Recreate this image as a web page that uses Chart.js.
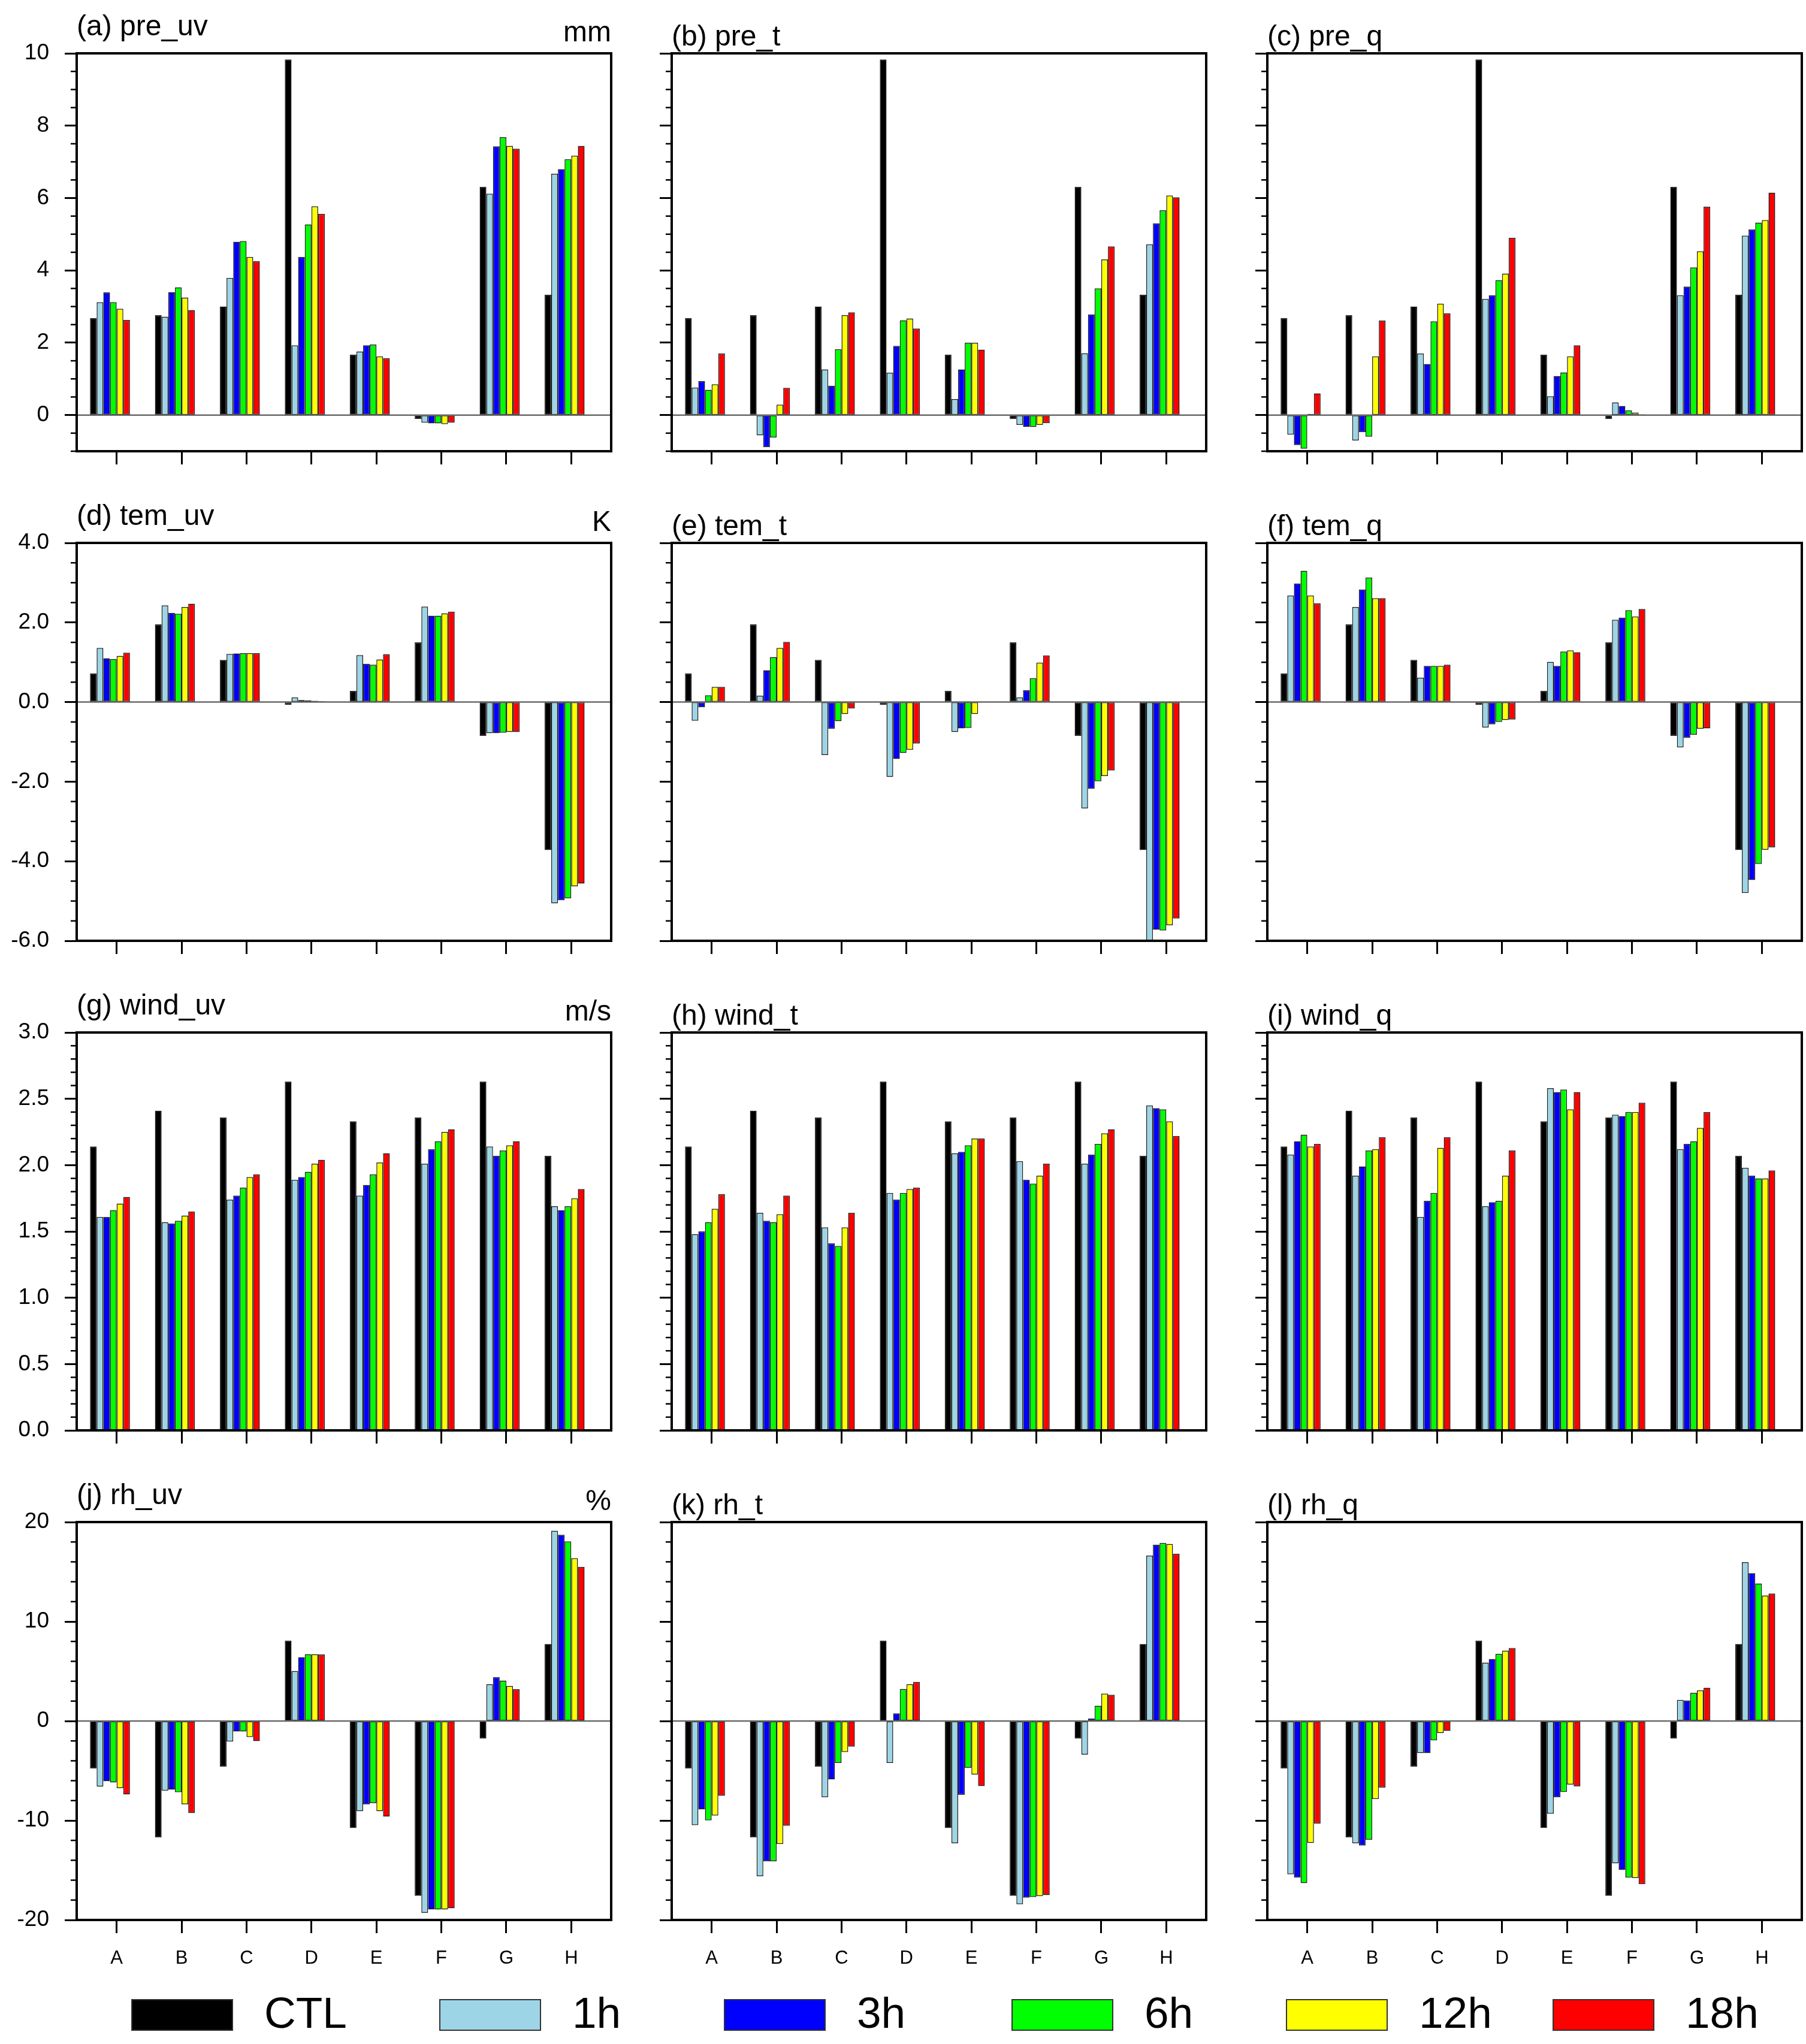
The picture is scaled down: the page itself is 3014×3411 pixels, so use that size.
<!DOCTYPE html>
<html>
<head>
<meta charset="utf-8">
<title>pre / tem / wind / rh</title>
<script src="https://cdn.jsdelivr.net/npm/chart.js@4.4.1/dist/chart.umd.min.js"></script>
<style>
  html, body { margin: 0; padding: 0; background: #fff; }
  body { width: 3014px; height: 3411px; position: relative; overflow: hidden;
         font-family: "Liberation Sans", Arial, sans-serif; color: #000; }
  .panel { position: absolute; }
  .panel canvas { display: block; }
  .title, .unit { position: absolute; font-size: 48px; line-height: 48px; white-space: nowrap; }
  .legend-box { position: absolute; width: 170px; height: 53px; border: 2px solid #333; box-sizing: border-box; }
  .legend-text { position: absolute; font-size: 73px; line-height: 73px; white-space: nowrap; }
</style>
</head>
<body>
<script>
var categories = ['A', 'B', 'C', 'D', 'E', 'F', 'G', 'H'];
var runs = ['CTL', '1h', '3h', '6h', '12h', '18h'];
var runColors = ['#000000', '#9dd5e6', '#0000ff', '#00ff00', '#ffff00', '#ff0000'];

// CTL is the same in every panel of a row
var preCTL  = [2.68, 2.76, 3.00, 9.83, 1.67, -0.11, 6.31, 3.33];
var temCTL  = [0.72, 1.95, 1.06, -0.07, 0.28, 1.50, -0.85, -3.72];
var windCTL = [2.14, 2.41, 2.36, 2.63, 2.33, 2.36, 2.63, 2.07];
var rhCTL   = [-4.77, -11.70, -4.59, 8.07, -10.75, -17.58, -1.76, 7.74];

// rows: 1h, 3h, 6h, 12h, 18h
var pre_uv = [
  [3.12, 2.72, 3.79, 1.93, 1.76, -0.21, 6.12, 6.67],
  [3.39, 3.40, 4.79, 4.37, 1.93, -0.23, 7.43, 6.80],
  [3.12, 3.53, 4.81, 5.27, 1.95, -0.23, 7.68, 7.07],
  [2.94, 3.25, 4.37, 5.77, 1.62, -0.25, 7.44, 7.17],
  [2.63, 2.90, 4.25, 5.56, 1.57, -0.21, 7.36, 7.44]
];
var pre_t = [
  [0.76, -0.56, 1.26, 1.17, 0.44, -0.27, 1.71, 4.72],
  [0.94, -0.89, 0.81, 1.91, 1.26, -0.33, 2.78, 5.30],
  [0.70, -0.62, 1.82, 2.62, 2.00, -0.33, 3.50, 5.66],
  [0.85, 0.29, 2.76, 2.67, 2.00, -0.27, 4.30, 6.07],
  [1.70, 0.75, 2.84, 2.39, 1.81, -0.22, 4.66, 6.02]
];
var pre_q = [
  [-0.54, -0.70, 1.70, 3.21, 0.52, 0.35, 3.31, 4.96],
  [-0.83, -0.47, 1.41, 3.31, 1.08, 0.25, 3.55, 5.13],
  [-0.93, -0.60, 2.59, 3.73, 1.18, 0.13, 4.08, 5.32],
  [0.03, 1.62, 3.08, 3.91, 1.62, 0.07, 4.53, 5.39],
  [0.60, 2.61, 2.81, 4.90, 1.93, 0.02, 5.76, 6.15]
];
var tem_uv = [
  [1.36, 2.43, 1.21, 0.12, 1.18, 2.40, -0.78, -5.06],
  [1.10, 2.24, 1.22, 0.05, 0.96, 2.17, -0.78, -4.98],
  [1.08, 2.22, 1.23, 0.04, 0.94, 2.17, -0.77, -4.93],
  [1.16, 2.39, 1.23, 0.03, 1.07, 2.23, -0.75, -4.63],
  [1.24, 2.47, 1.23, 0.02, 1.20, 2.27, -0.75, -4.56]
];
var tem_t = [
  [-0.47, 0.16, -1.33, -1.88, -0.75, 0.12, -2.67, -6.02],
  [-0.13, 0.80, -0.67, -1.43, -0.66, 0.30, -2.18, -5.72],
  [0.17, 1.13, -0.48, -1.28, -0.65, 0.60, -1.99, -5.74],
  [0.38, 1.36, -0.30, -1.20, -0.30, 0.99, -1.86, -5.61],
  [0.38, 1.51, -0.16, -1.04, -0.01, 1.17, -1.72, -5.44]
];
var tem_q = [
  [2.68, 2.39, 0.61, -0.64, 1.01, 2.07, -1.14, -4.80],
  [2.98, 2.83, 0.91, -0.56, 0.91, 2.12, -0.90, -4.47],
  [3.30, 3.13, 0.91, -0.50, 1.27, 2.31, -0.82, -4.07],
  [2.68, 2.61, 0.91, -0.45, 1.30, 2.15, -0.67, -3.71],
  [2.48, 2.61, 0.94, -0.44, 1.25, 2.34, -0.66, -3.65]
];
var wind_uv = [
  [1.61, 1.57, 1.74, 1.89, 1.77, 2.01, 2.14, 1.69],
  [1.61, 1.56, 1.77, 1.91, 1.85, 2.12, 2.07, 1.66],
  [1.66, 1.58, 1.83, 1.95, 1.93, 2.18, 2.11, 1.69],
  [1.71, 1.62, 1.91, 2.01, 2.02, 2.25, 2.15, 1.75],
  [1.76, 1.65, 1.93, 2.04, 2.09, 2.27, 2.18, 1.82]
];
var wind_t = [
  [1.48, 1.64, 1.53, 1.79, 2.09, 2.03, 2.01, 2.45],
  [1.50, 1.58, 1.41, 1.74, 2.10, 1.89, 2.08, 2.43],
  [1.57, 1.57, 1.39, 1.79, 2.15, 1.86, 2.16, 2.42],
  [1.67, 1.63, 1.53, 1.82, 2.20, 1.92, 2.24, 2.33],
  [1.78, 1.77, 1.64, 1.83, 2.20, 2.01, 2.27, 2.22]
];
var wind_q = [
  [2.08, 1.92, 1.61, 1.69, 2.58, 2.38, 2.12, 1.98],
  [2.18, 1.99, 1.73, 1.72, 2.55, 2.37, 2.16, 1.92],
  [2.23, 2.11, 1.79, 1.73, 2.57, 2.40, 2.18, 1.90],
  [2.14, 2.12, 2.13, 1.92, 2.42, 2.40, 2.28, 1.90],
  [2.16, 2.21, 2.21, 2.11, 2.55, 2.47, 2.40, 1.96]
];
var rh_uv = [
  [-6.60, -7.00, -2.06, 5.03, -9.06, -19.27, 3.71, 19.12],
  [-6.06, -6.90, -1.06, 6.42, -8.37, -18.94, 4.40, 18.72],
  [-6.17, -7.16, -1.06, 6.72, -8.26, -18.94, 4.07, 18.06],
  [-6.75, -8.37, -1.61, 6.72, -9.06, -18.94, 3.52, 16.37],
  [-7.38, -9.25, -2.02, 6.68, -9.61, -18.83, 3.19, 15.49]
];
var rh_t = [
  [-10.46, -15.60, -7.67, -4.22, -12.29, -18.42, -3.38, 16.62],
  [-8.88, -14.09, -5.87, 0.77, -7.41, -17.76, 0.26, 17.72],
  [-9.98, -14.09, -4.22, 3.23, -4.70, -17.69, 1.54, 17.90],
  [-9.50, -12.37, -3.12, 3.71, -5.39, -17.61, 2.75, 17.80],
  [-7.52, -10.53, -2.57, 3.93, -6.53, -17.50, 2.64, 16.80]
];
var rh_q = [
  [-15.41, -12.29, -3.23, 5.87, -9.32, -14.31, 2.13, 15.96],
  [-15.74, -12.51, -3.23, 6.24, -7.67, -14.97, 2.06, 14.86],
  [-16.29, -11.93, -1.94, 6.75, -7.12, -15.74, 2.83, 13.83],
  [-12.26, -7.85, -1.21, 7.08, -6.39, -15.78, 3.08, 12.62],
  [-10.31, -6.68, -0.99, 7.34, -6.57, -16.40, 3.34, 12.81]
];

// y axis tick labels per row
var preTicks  = [0, 2, 4, 6, 8, 10];
var temTicks  = [-6, -4, -2, 0, 2, 4];
var windTicks = [0, 0.5, 1, 1.5, 2, 2.5, 3];
var rhTicks   = [-20, -10, 0, 10, 20];

var rows = [
  { ctl: preCTL,  panels: [pre_uv, pre_t, pre_q],    names: ['pre_uv', 'pre_t', 'pre_q'],    unit: 'mm',  min: -1, max: 10, ticks: preTicks,  minor: 0.5, digits: 0 },
  { ctl: temCTL,  panels: [tem_uv, tem_t, tem_q],    names: ['tem_uv', 'tem_t', 'tem_q'],    unit: 'K',   min: -6, max: 4,  ticks: temTicks,  minor: 0.5, digits: 1 },
  { ctl: windCTL, panels: [wind_uv, wind_t, wind_q], names: ['wind_uv', 'wind_t', 'wind_q'], unit: 'm/s', min: 0,  max: 3,  ticks: windTicks, minor: 0.1, digits: 1 },
  { ctl: rhCTL,   panels: [rh_uv, rh_t, rh_q],       names: ['rh_uv', 'rh_t', 'rh_q'],       unit: '%',   min: -20, max: 20, ticks: rhTicks,  minor: 2,   digits: 0 }
];

// page layout (pixels)
var colLeft = [128, 1121, 2115];
var rowTop = [89, 906, 1723, 2540];
var frameW = 892, frameH = 664;
var padTop = 60, padRight = 6;
var legendLeft = [219, 733, 1208, 1688, 2146, 2591];
var legendTop = 3336;

Chart.defaults.font.family = '"Liberation Sans", Arial, sans-serif';
Chart.defaults.color = '#000';

// frame, zero line and minor ticks, like the NCL plots
var framePlugin = {
  id: 'frame',
  afterDatasetsDraw: function(chart, args, opts) {
    var a = chart.chartArea, y = chart.scales.y, ctx = chart.ctx;
    ctx.save();
    if (y.min < 0) {
      var y0 = y.getPixelForValue(0);
      ctx.strokeStyle = '#6a6a6a';
      ctx.lineWidth = 2.5;
      ctx.beginPath(); ctx.moveTo(a.left, y0); ctx.lineTo(a.right, y0); ctx.stroke();
    }
    ctx.strokeStyle = '#000';
    ctx.lineWidth = 2.5;
    var n = Math.round((y.max - y.min) / opts.minor);
    for (var k = 0; k <= n; k++) {
      var v = y.min + k * opts.minor;
      var isMajor = opts.major.some(function(m) { return Math.abs(m - v) < 1e-6; });
      if (isMajor) continue;
      var py = y.getPixelForValue(v);
      ctx.beginPath(); ctx.moveTo(a.left - 10, py); ctx.lineTo(a.left, py); ctx.stroke();
    }
    ctx.lineWidth = 4;
    ctx.strokeRect(a.left, a.top, a.right - a.left, a.bottom - a.top);
    ctx.restore();
  }
};

var letters = 'abcdefghijkl';

rows.forEach(function(row, r) {
  row.panels.forEach(function(vals, c) {
    var yw = c === 0 ? 128 : 40;
    var xh = r === 3 ? 100 : 60;
    var w = yw + frameW + padRight, h = padTop + frameH + xh;

    var wrap = document.createElement('div');
    wrap.className = 'panel';
    wrap.style.left = (colLeft[c] - yw) + 'px';
    wrap.style.top = (rowTop[r] - padTop) + 'px';
    wrap.style.width = w + 'px';
    wrap.style.height = h + 'px';
    var cv = document.createElement('canvas');
    cv.width = w; cv.height = h;
    cv.style.width = w + 'px'; cv.style.height = h + 'px';
    wrap.appendChild(cv);
    document.body.appendChild(wrap);

    var title = document.createElement('div');
    title.className = 'title';
    title.textContent = '(' + letters[r * 3 + c] + ') ' + row.names[c];
    title.style.left = colLeft[c] + 'px';
    title.style.top = (rowTop[r] - (c === 0 ? 70 : 53)) + 'px';
    document.body.appendChild(title);

    if (c === 0) {
      var unit = document.createElement('div');
      unit.className = 'unit';
      unit.textContent = row.unit;
      unit.style.right = (3014 - colLeft[0] - frameW) + 'px';
      unit.style.top = (rowTop[r] - 60) + 'px';
      document.body.appendChild(unit);
    }

    var series = [row.ctl].concat(vals);
    var datasets = series.map(function(s, k) {
      return {
        label: runs[k],
        data: s.map(function(v, i) { return { x: i, y: v }; }),
        backgroundColor: runColors[k],
        borderColor: '#1a1a1a',
        borderWidth: 1.5,
        borderSkipped: false
      };
    });
    // two empty slots: the original groups sit to the left of each tick
    datasets.push({ label: '', data: [] }, { label: '', data: [] });

    new Chart(cv.getContext('2d'), {
      type: 'bar',
      data: { datasets: datasets },
      options: {
        responsive: false,
        animation: false,
        events: [],
        layout: { padding: { top: padTop, right: padRight, left: 0, bottom: 0 } },
        datasets: { bar: { categoryPercentage: 0.82, barPercentage: 1.0 } },
        plugins: {
          legend: { display: false },
          tooltip: { enabled: false },
          frame: { minor: row.minor, major: row.ticks }
        },
        scales: {
          x: {
            type: 'linear',
            min: -0.615, max: 7.615,
            offset: false,
            afterBuildTicks: function(s) { s.ticks = categories.map(function(_, i) { return { value: i }; }); },
            afterFit: function(s) { s.height = xh; },
            grid: { offset: false, drawOnChartArea: false, drawTicks: true, tickLength: 22, tickWidth: 3, tickColor: '#000' },
            border: { display: false },
            ticks: {
              autoSkip: false, maxRotation: 0, padding: 24, color: '#000',
              font: { size: 31 },
              callback: function(v) { return r === 3 ? categories[v] : ''; }
            }
          },
          y: {
            min: row.min, max: row.max,
            afterBuildTicks: function(s) { s.ticks = row.ticks.map(function(v) { return { value: v }; }); },
            afterFit: function(s) { s.width = yw; },
            grid: { drawOnChartArea: false, drawTicks: true, tickLength: 20, tickWidth: 3, tickColor: '#000' },
            border: { display: false },
            ticks: {
              padding: 26, color: '#000',
              font: { size: 37 },
              callback: function(v) { return c === 0 ? Number(v).toFixed(row.digits) : ''; }
            }
          }
        }
      },
      plugins: [framePlugin]
    });
  });
});

// legend along the bottom
runs.forEach(function(name, k) {
  var box = document.createElement('div');
  box.className = 'legend-box';
  box.style.left = legendLeft[k] + 'px';
  box.style.top = legendTop + 'px';
  box.style.background = runColors[k];
  document.body.appendChild(box);
  var txt = document.createElement('div');
  txt.className = 'legend-text';
  txt.textContent = name;
  txt.style.left = (legendLeft[k] + 222) + 'px';
  txt.style.top = (legendTop - 14) + 'px';
  document.body.appendChild(txt);
});
</script>
</body>
</html>
